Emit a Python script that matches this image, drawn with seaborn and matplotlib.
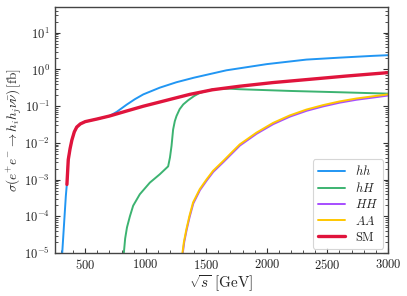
import numpy as np
import pandas as pd
import matplotlib
matplotlib.use('Agg')
import matplotlib.pyplot as plt
import matplotlib.ticker as mticker
import seaborn as sns

# ============================================================
# DATA
# ============================================================

hh_x = [310, 320, 330, 340, 349, 360, 375, 390, 410, 430, 460, 500, 600, 700,
        760, 842, 910, 980, 1116, 1254, 1400, 1666, 2000, 2327, 2600, 2876, 3000]
hh_y = [1.0e-5, 3.3e-5, 1.1e-4, 3.6e-4, 8.0e-4, 3.5e-3, 7.0e-3, 1.2e-2, 2.0e-2, 2.7e-2,
        3.3e-2, 3.8e-2, 4.5e-2, 5.4e-2, 7.0e-2, 1.1e-1, 1.55e-1, 2.1e-1, 3.2e-1, 4.5e-1,
        6.0e-1, 9.5e-1, 1.4, 1.86, 2.1, 2.35, 2.45]

hH_x = [819, 830, 845, 869, 896, 951, 1034, 1116, 1185, 1200, 1213, 1226, 1240, 1254,
        1280, 1310, 1350, 1400, 1446, 1556, 1694, 1776, 2200, 2600, 3000]
hH_y = [1.0e-5, 2.5e-5, 5.0e-5, 1.0e-4, 1.95e-4, 4.0e-4, 8.3e-4, 1.4e-3, 2.3e-3, 4.0e-3,
        8.3e-3, 2.3e-2, 3.9e-2, 5.4e-2, 8.3e-2, 1.12e-1, 1.45e-1, 1.9e-1, 2.3e-1, 2.9e-1,
        3.0e-1, 2.9e-1, 2.6e-1, 2.4e-1, 2.2e-1]

HH_x = [1306, 1318, 1338, 1362, 1393, 1448, 1503, 1558, 1641, 1723, 1778, 1916, 2053,
        2191, 2329, 2466, 2603, 2741, 2878, 3000]
HH_y = [1.0e-5, 2.0e-5, 4.3e-5, 9.5e-5, 2.25e-4, 5.2e-4, 9.4e-4, 1.63e-3, 3.0e-3, 5.6e-3,
        8.5e-3, 1.78e-2, 3.25e-2, 5.2e-2, 7.5e-2, 9.9e-2, 1.25e-1, 1.5e-1, 1.72e-1, 1.95e-1]

AA_x = [1303, 1315, 1336, 1360, 1391, 1446, 1501, 1556, 1639, 1721, 1776, 1914, 2051,
        2189, 2327, 2464, 2601, 2739, 2876, 3000]
AA_y = [1.0e-5, 2.0e-5, 4.5e-5, 1.0e-4, 2.4e-4, 5.5e-4, 1.0e-3, 1.74e-3, 3.2e-3, 6.0e-3,
        9.1e-3, 1.9e-2, 3.5e-2, 5.6e-2, 8.1e-2, 1.07e-1, 1.35e-1, 1.62e-1, 1.86e-1, 2.1e-1]

SM_x = [349, 360, 375, 390, 410, 430, 460, 500, 600, 700, 842, 980, 1116, 1254, 1364,
        1550, 1776, 2050, 2354, 2650, 3000]
SM_y = [7.4e-4, 3.5e-3, 7.0e-3, 1.2e-2, 2.0e-2, 2.7e-2, 3.3e-2, 3.8e-2, 4.5e-2, 5.4e-2,
        7.4e-2, 1.0e-1, 1.3e-1, 1.7e-1, 2.1e-1, 2.8e-1, 3.5e-1, 4.4e-1, 5.4e-1, 6.6e-1,
        8.2e-1]

series = [
    (r'$hh$', hh_x, hh_y, '#2196f3', 1.4),
    (r'$hH$', hH_x, hH_y, '#3cb371', 1.4),
    (r'$HH$', HH_x, HH_y, '#a64dff', 1.4),
    (r'$AA$', AA_x, AA_y, '#ffc700', 1.4),
    (r'$\mathrm{SM}$', SM_x, SM_y, '#e0143c', 2.4),
]

xticks = [500, 1000, 1500, 2000, 2500, 3000]
yticks = [1e-5, 1e-4, 1e-3, 1e-2, 1e-1, 1e0, 1e1]

# ============================================================
# PLOT
# ============================================================

sns.set_style('ticks')
plt.rcParams['font.family'] = ['DejaVu Serif']
plt.rcParams['mathtext.fontset'] = 'cm'
plt.rcParams['xtick.direction'] = 'in'
plt.rcParams['ytick.direction'] = 'in'

fig = plt.figure(figsize=(4.07, 2.96), dpi=100)
ax = fig.add_axes([0.135, 0.145, 0.818, 0.831])

for label, xs, ys, color, lw in series:
    d = pd.DataFrame({'x': xs, 'y': ys})
    sns.lineplot(data=d, x='x', y='y', ax=ax, color=color, lw=lw, label=label,
                 sort=False, estimator=None)

ax.set_yscale('log')
ax.set_xlim(250, 3000)
ax.set_ylim(1e-5, 50)

ax.set_xticks(xticks)
ax.set_xticklabels([rf'${t}$' for t in xticks])
ax.xaxis.set_minor_locator(mticker.MultipleLocator(100))
ax.set_yticks(yticks)
ax.set_yticklabels([rf'$10^{{{int(np.log10(t))}}}$' for t in yticks])
ax.yaxis.set_minor_locator(mticker.LogLocator(base=10, subs=np.arange(2, 10), numticks=20))
ax.yaxis.set_minor_formatter(mticker.NullFormatter())

ax.tick_params(which='both', right=True, top=False, labelsize=9, colors='#333333',
               labelcolor='#222222')
ax.tick_params(which='major', length=3.5, width=0.8)
ax.tick_params(which='minor', length=2, width=0.6)
for sp in ax.spines.values():
    sp.set_color('#444444')
    sp.set_linewidth(1.0)

ax.set_xlabel(r'$\sqrt{s}\ [\mathrm{GeV}]$', fontsize=11, labelpad=1)
ax.set_ylabel(r'$\sigma(e^{+}e^{-}{\to}h_ih_j\nu\bar{\nu})\,[\mathrm{fb}]$', fontsize=9.5)
ax.yaxis.set_label_coords(-0.092, 0.5)

leg = ax.legend(loc='lower right', fontsize=9, frameon=True, fancybox=True,
                handlelength=2.2, borderaxespad=0.35, labelspacing=0.25)
leg.get_frame().set_edgecolor('#cccccc')
leg.get_frame().set_linewidth(0.8)

fig.savefig('out.png', dpi=100)
